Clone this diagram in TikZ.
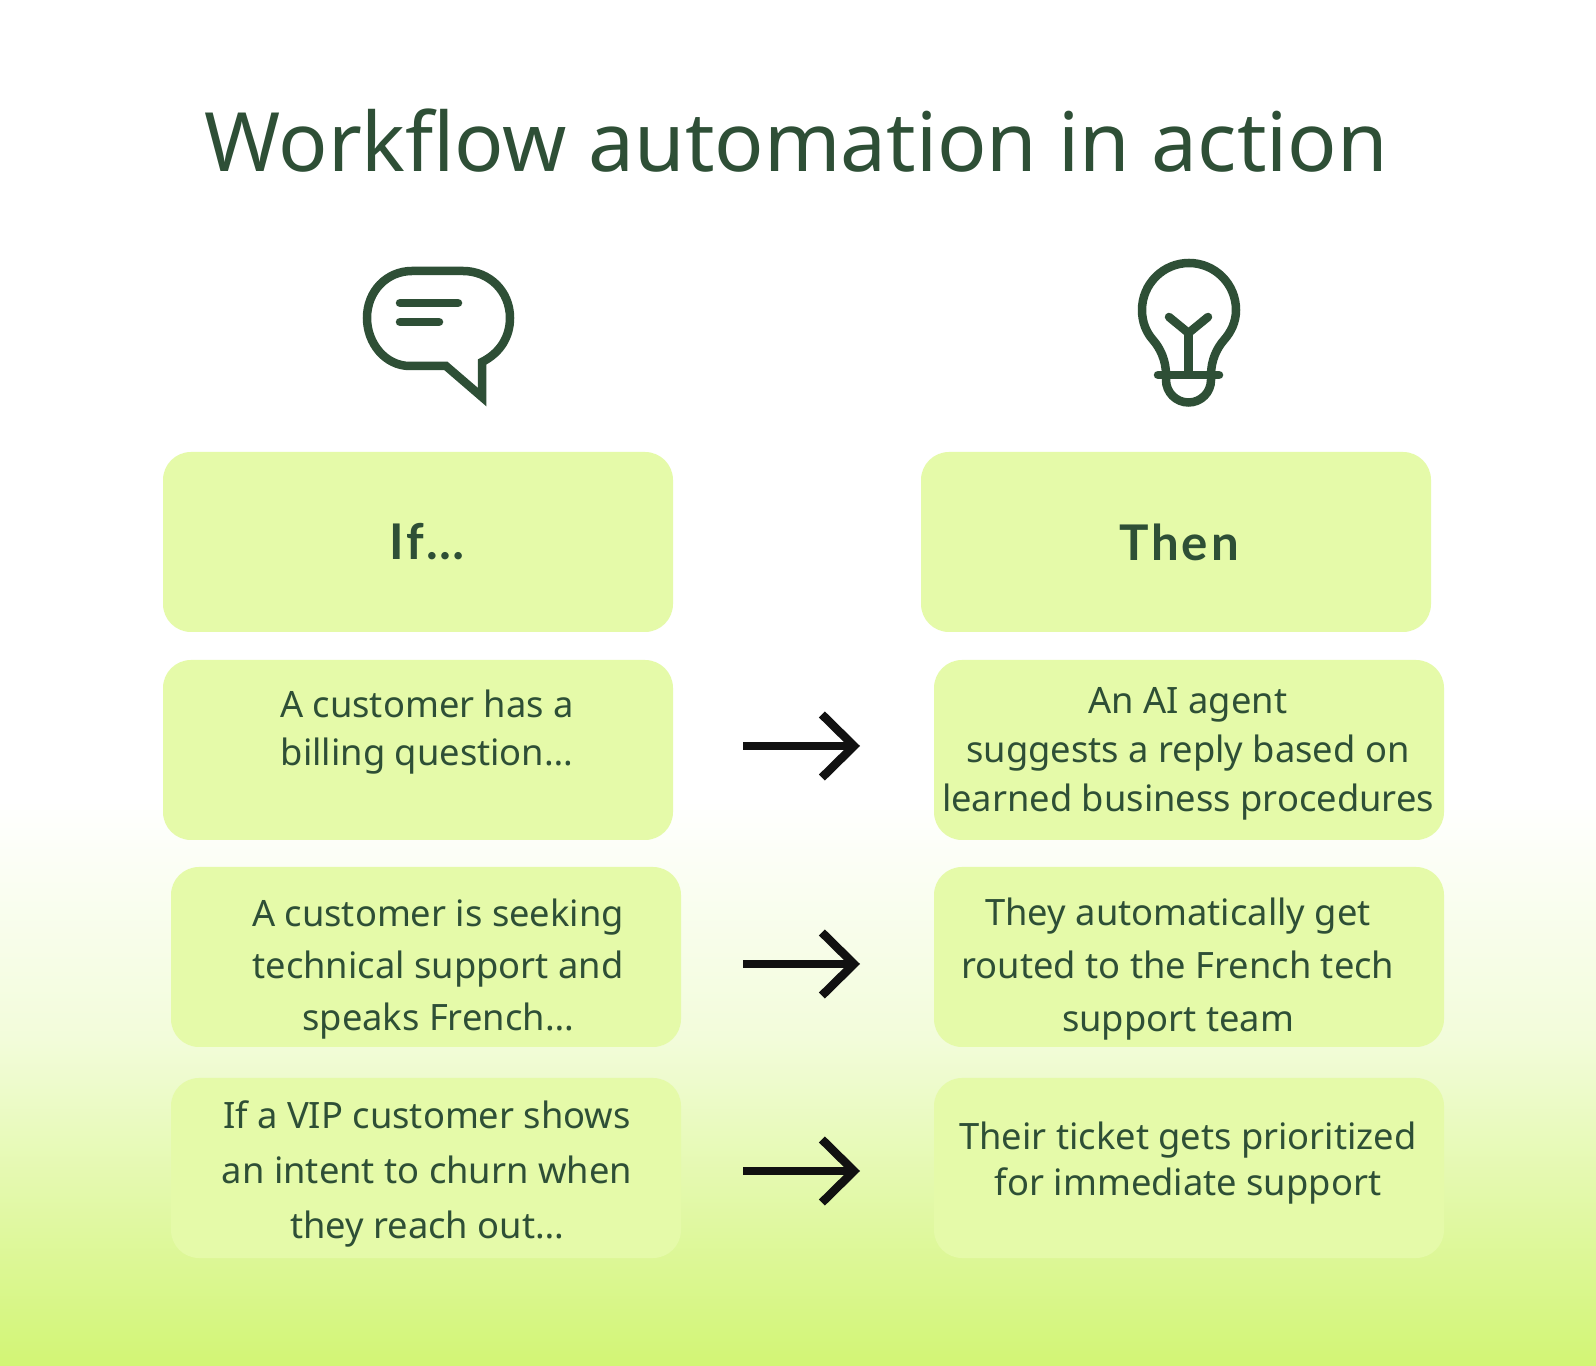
\documentclass[tikz,border=0pt]{standalone}
\usepackage{fontspec}
\usepackage{xcolor}
\usetikzlibrary{arrows.meta}
\setmainfont{Noto Sans}
\newfontfamily\headfont[LetterSpace=6]{Lato}
\definecolor{forest}{HTML}{2E4F36}
\definecolor{card}{HTML}{E5FAA9}
\definecolor{haze}{HTML}{F2FCDA}
\definecolor{lime}{HTML}{D2F575}
\definecolor{jet}{HTML}{111111}
\tikzset{
  cardbox/.style={fill=card, rounded corners=0.28cm, minimum width=5.10cm, minimum height=1.80cm, inner sep=0pt},
  cardtext/.style={color=forest, align=center, inner sep=0pt, font=\fontsize{10.33}{#1}\selectfont},
  headtext/.style={color=forest, inner sep=0pt, font=\fontsize{14}{17}\selectfont\headfont\bfseries},
  icon/.style={color=forest, line width=0.085cm},
  flowarrow/.style={color=jet, line width=0.085cm, -{Straight Barb[length=0.32cm, width=0.63cm, line width=0.085cm]}}
}
\begin{document}
\begin{tikzpicture}
  \useasboundingbox (0,0) rectangle (15.96,13.65);
  % background
  \fill[white] (0,0) rectangle (15.96,13.65);
  \fill[top color=white, bottom color=haze] (0,3.25) rectangle (15.96,5.65);
  \fill[top color=haze, bottom color=lime] (0,0) rectangle (15.96,3.26);

  \node[color=forest, inner sep=0pt, font=\fontsize{23.3}{28}\selectfont] (title) at (7.96,12.24) {Workflow automation in action};

  % speech bubble
  \draw[icon, miter limit=10] (4.82,10.03) -- (4.82,9.68) -- (4.46,9.99) -- (4.10,9.99)
    .. controls (3.85,9.99) and (3.67,10.22) .. (3.67,10.47)
    .. controls (3.67,10.74) and (3.87,10.94) .. (4.12,10.94) -- (4.63,10.94)
    .. controls (4.89,10.94) and (5.10,10.74) .. (5.10,10.47)
    .. controls (5.10,10.28) and (5.00,10.12) .. (4.82,10.03) -- cycle;
  \draw[icon, line cap=round] (4.00,10.62) -- (4.58,10.62);
  \draw[icon, line cap=round] (4.00,10.43) -- (4.39,10.43);

  % light bulb
  \draw[icon] (11.66,9.90) .. controls (11.66,10.05) and (11.60,10.17) .. (11.53,10.25)
    .. controls (11.46,10.33) and (11.42,10.43) .. (11.42,10.55)
    arc[start angle=180, end angle=0, radius=0.47]
    .. controls (12.36,10.43) and (12.31,10.33) .. (12.24,10.25)
    .. controls (12.17,10.17) and (12.11,10.05) .. (12.11,9.90);
  \draw[icon, line cap=round] (11.58,9.90) -- (12.19,9.90);
  \draw[icon] (11.66,9.90) -- (11.66,9.85) arc[start angle=180, end angle=360, radius=0.225] -- (12.11,9.90);
  \draw[icon] (11.885,9.90) -- (11.885,10.32);
  \draw[icon, line cap=round, line join=round] (11.69,10.48) -- (11.885,10.32) -- (12.08,10.48);

  % cards
  \node[cardbox] (ifhead) at (4.18,8.23) {};
  \node[cardbox] (thenhead) at (11.76,8.23) {};
  \node[cardbox] (ifone) at (4.18,6.15) {};
  \node[cardbox] (thenone) at (11.89,6.15) {};
  \node[cardbox] (iftwo) at (4.26,4.08) {};
  \node[cardbox] (thentwo) at (11.89,4.08) {};
  \node[cardbox] (ifthree) at (4.26,1.97) {};
  \node[cardbox] (thenthree) at (11.89,1.97) {};

  % texts
  \node[headtext] (iflabel) at (4.27,8.23) {If…};
  \node[headtext] (thenlabel) at (11.79,8.23) {Then};
  \node[cardtext=13.7] (ifonelabel) at (4.27,6.33) {A customer has a\\billing question…};
  \node[cardtext=13.9] (thenonelabel) at (11.88,6.11) {An AI agent\\suggests a reply based on\\learned business procedures};
  \node[cardtext=14.8] (iftwolabel) at (4.38,3.96) {A customer is seeking\\technical support and\\speaks French…};
  \node[cardtext=15] (thentwolabel) at (11.78,3.96) {They automatically get\\routed to the French tech\\support team};
  \node[cardtext=15.7] (ifthreelabel) at (4.27,1.91) {If a VIP customer shows\\an intent to churn when\\they reach out…};
  \node[cardtext=13] (thenthreelabel) at (11.88,2.02) {Their ticket gets prioritized\\for immediate support};

  % arrows
  \coordinate (startone) at (7.43,6.19);
  \coordinate (endone) at (8.60,6.19);
  \coordinate (starttwo) at (7.43,4.01);
  \coordinate (endtwo) at (8.60,4.01);
  \coordinate (startthree) at (7.43,1.94);
  \coordinate (endthree) at (8.60,1.94);
  \draw[flowarrow] (startone) -- (endone);
  \draw[flowarrow] (starttwo) -- (endtwo);
  \draw[flowarrow] (startthree) -- (endthree);
\end{tikzpicture}
\end{document}
